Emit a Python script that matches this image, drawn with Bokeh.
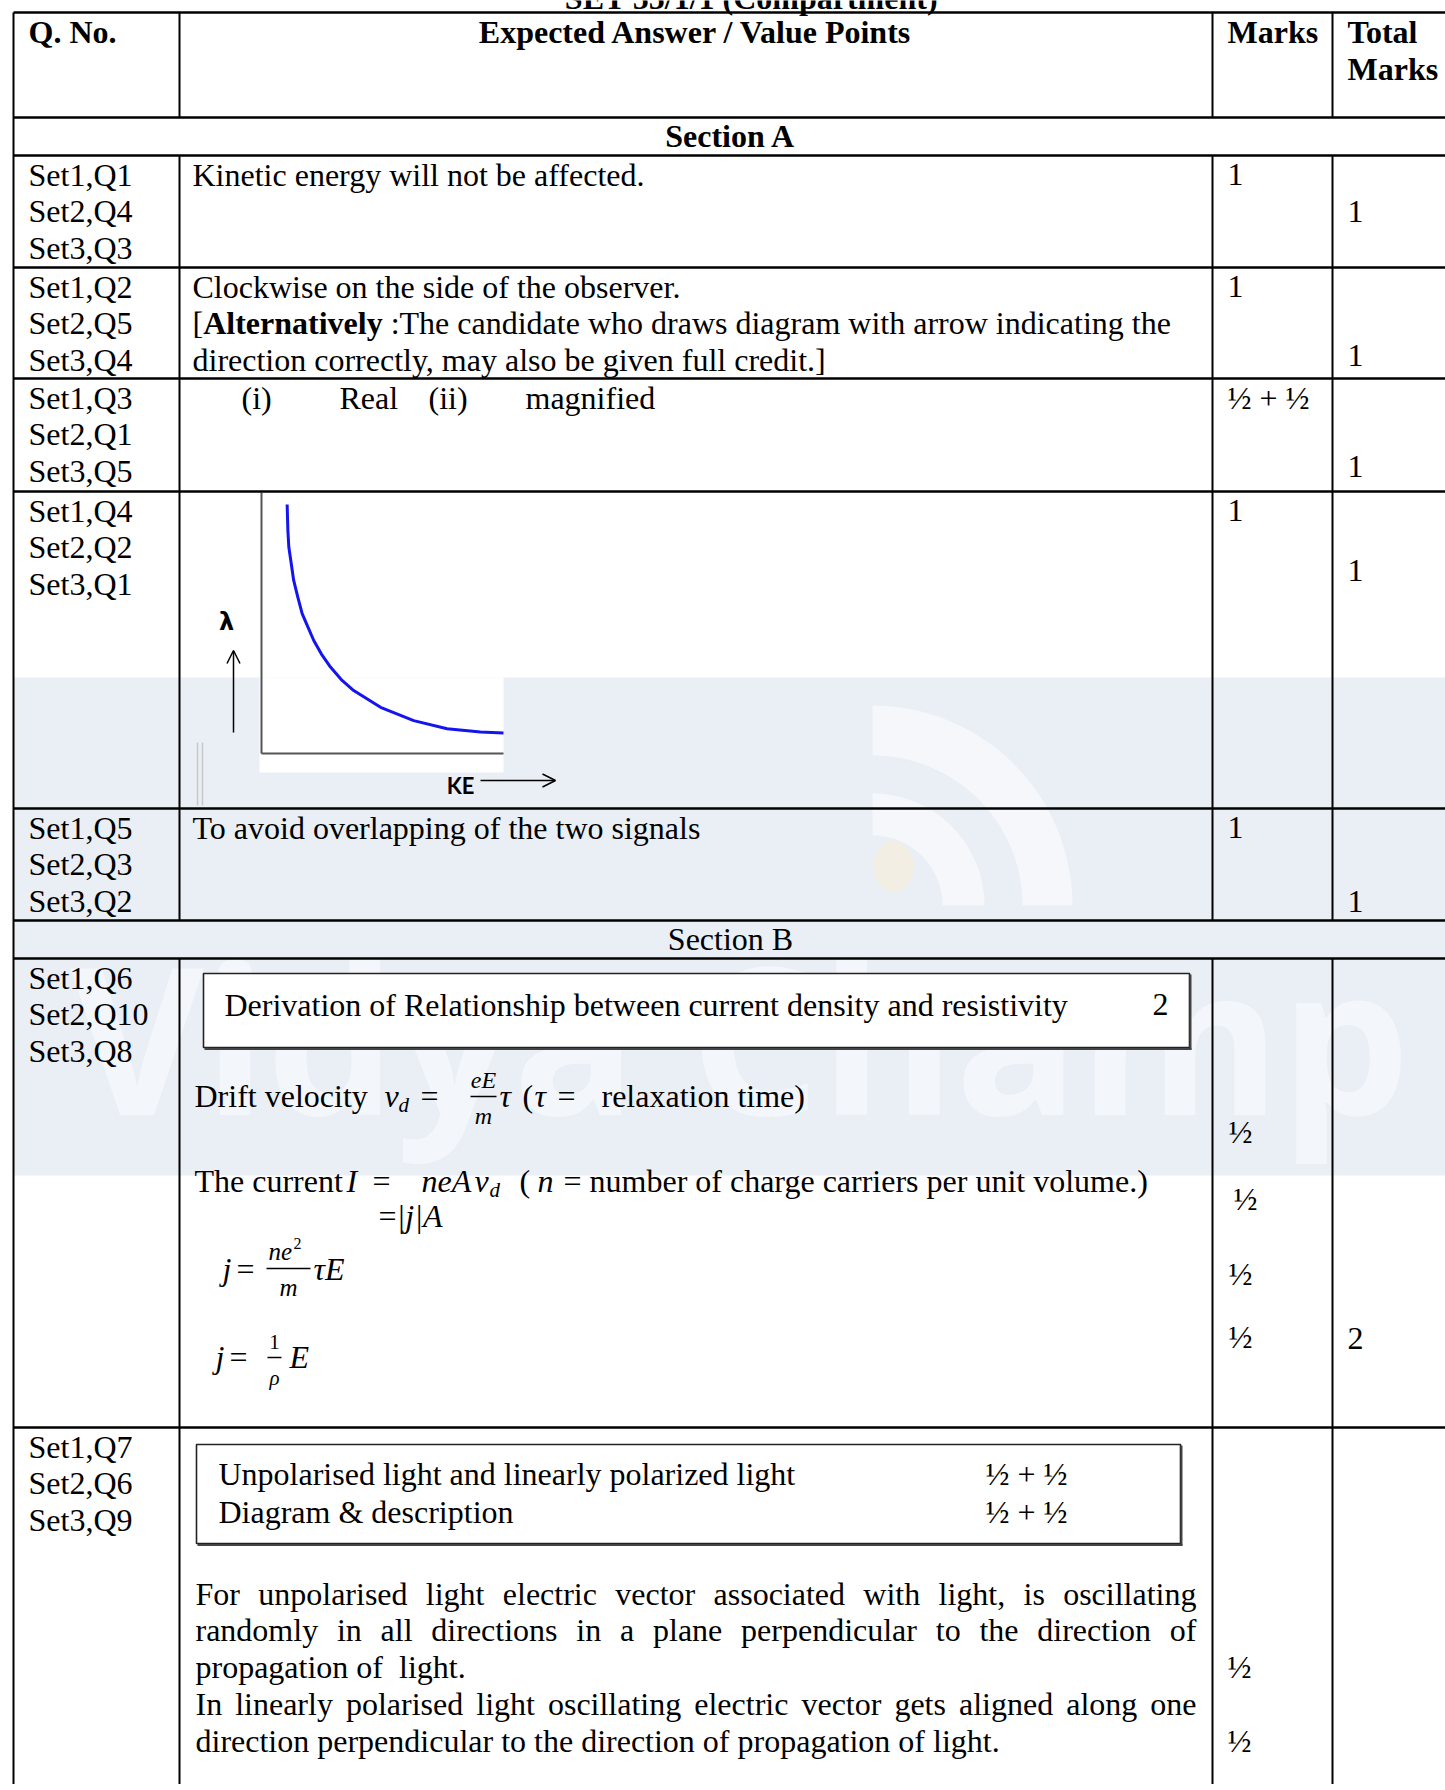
import numpy as np
from bokeh.plotting import figure
from bokeh.models import Range1d, Arrow, OpenHead
from bokeh.core.properties import value
from bokeh.embed import file_html
from bokeh.resources import INLINE

# ---------------------------------------------------------------- data
TITLE = "SET 55/1/1 (Compartment)"
HEAD_QNO = "Q. No."
HEAD_ANSWER = "Expected Answer / Value Points"
HEAD_MARKS = "Marks"
HEAD_TOTAL = ["Total", "Marks"]
SECTIONS = ["Section A", "Section B"]

QNOS = [
    ["Set1,Q1", "Set2,Q4", "Set3,Q3"],
    ["Set1,Q2", "Set2,Q5", "Set3,Q4"],
    ["Set1,Q3", "Set2,Q1", "Set3,Q5"],
    ["Set1,Q4", "Set2,Q2", "Set3,Q1"],
    ["Set1,Q5", "Set2,Q3", "Set3,Q2"],
    ["Set1,Q6", "Set2,Q10", "Set3,Q8"],
    ["Set1,Q7", "Set2,Q6", "Set3,Q9"],
]
ANSWER_Q1 = "Kinetic energy will not be affected."
ANSWER_Q2 = ["Clockwise on the side of the observer.",
             ("[", "Alternatively", " :The candidate who draws diagram with arrow indicating the"),
             "direction correctly, may also be given full credit.]"]
ANSWER_Q3 = ["(i)", "Real", "(ii)", "magnified"]
ANSWER_Q5 = "To avoid overlapping of the two signals"
Q6_BOX = ("Derivation of Relationship between current density and resistivity", "2")
Q7_BOX = [("Unpolarised light and linearly polarized light", "½ + ½"),
          ("Diagram & description", "½ + ½")]
Q7_PARA = [
    "For unpolarised light electric vector associated with light, is oscillating",
    "randomly in all directions in a plane perpendicular to the direction of",
    "propagation of  light.",
    "In linearly polarised light oscillating electric vector gets aligned along one",
    "direction perpendicular to the direction of propagation of light.",
]
Q7_JUSTIFY = [True, True, False, True, False]
MARKS_A = ["1", "1", "½ + ½", "1", "1"]
TOTALS = ["1", "1", "1", "1", "1", "2"]
MARKS_Q6 = ["½", "½", "½", "½"]
MARKS_Q7 = ["½", "½"]
GRAPH_Y_LABEL = "λ"
GRAPH_X_LABEL = "KE"
# de Broglie wavelength vs kinetic energy sketch (graph units 0-10)
KE = [1.06, 1.09, 1.13, 1.23, 1.33, 1.50, 1.68, 1.92, 2.16, 2.47, 2.85, 3.33,
      3.81, 4.92, 6.29, 7.67, 9.05, 10.0]
LAMBDA = [9.54, 8.54, 7.90, 7.27, 6.63, 5.99, 5.36, 4.84, 4.33, 3.82, 3.31, 2.80,
          2.41, 1.77, 1.26, 0.95, 0.82, 0.79]
WATERMARK = "Vidya Champ"

# ---------------------------------------------------------------- layout
W, H = 1445, 1784
X0, Y0 = 0, 0
COLS = [13, 179, 1212, 1332]
RIGHT = 1446
TOP = 12
HLINES = [12, 117, 155, 267, 378, 491, 808, 920, 958, 1427]
ROW_TOPS = [155, 267, 378, 491, 808, 958, 1427]
SEC_ROWS = [(117, 155), (920, 958)]
BOTTOM = Y0 + H + 2
LS = 36.6          # line spacing
FIRST = 19         # first line offset in a row
FS = 32            # body font size
SERIF = "Liberation Serif"
SANS = "Lato"
TXT_X = [28, 192, 1227, 1347]
TOTAL_Y = [211, 355, 466, 570, 901, 1338]
BAND = (677, 1175, "#EAEFF6")

# Times New Roman advance widths (per 1000 em) - Liberation Serif is metric-compatible
TNR = {' ': 250, ',': 250, '.': 250, ':': 278, '[': 333, ']': 333, '(': 333, ')': 333,
       'F': 556, 'I': 333, 'T': 611, 'A': 722, 'D': 722, '=': 564,
       'a': 444, 'b': 500, 'c': 444, 'd': 500, 'e': 444, 'f': 333, 'g': 500, 'h': 500,
       'i': 278, 'j': 278, 'k': 500, 'l': 278, 'm': 778, 'n': 500, 'o': 500, 'p': 500,
       'q': 500, 'r': 333, 's': 389, 't': 278, 'u': 500, 'v': 500, 'w': 722, 'x': 500,
       'y': 500, 'z': 444}
TNR_BOLD = {'A': 722, 'l': 278, 't': 333, 'e': 444, 'r': 444, 'n': 556, 'a': 500,
            'i': 278, 'v': 500, 'y': 500}


def tw(s, size=FS, table=TNR):
    return sum(table.get(c, 500) for c in s) * size / 1000.0


def nb(s):
    # keep repeated / leading spaces visible in SVG text
    s = s.replace("  ", " \u00a0")
    if s.startswith(" "):
        s = "\u00a0" + s[1:]
    return s


p = figure(width=W, height=H, x_range=Range1d(X0, X0 + W), y_range=Range1d(Y0 + H, Y0),
           output_backend="svg", toolbar_location=None, x_axis_type=None, y_axis_type=None,
           min_border=0, background_fill_color="white", border_fill_color="white")
p.grid.visible = False
p.outline_line_color = None


def t(x, y, s, size=FS, style="normal", align="left", font=SERIF, color="black",
      alpha=1.0):
    p.text(x=[x], y=[y], text=[nb(s)], text_font=value(font), text_font_size=f"{size}px",
           text_font_style=style, text_align=align, text_baseline="middle",
           text_color=color, text_alpha=alpha)


def line_y(row, i):
    return ROW_TOPS[row] + FIRST + LS * i


# ---- watermark band
p.quad(left=[COLS[0]], right=[RIGHT], top=[BAND[0]], bottom=[BAND[1]],
       fill_color=BAND[2], line_color=None)
t(70, 1035, WATERMARK, size=205, style="bold", font="Open Sans", color="white",
  alpha=0.45)
# wifi-like arcs of the logo
cx, cy = 872, 905
for r_in, r_out in [(150, 200), (70, 112)]:
    th = np.linspace(0, np.pi / 2, 40)
    xs = np.concatenate([cx + r_out * np.cos(th), cx + r_in * np.cos(th[::-1])])
    ys = np.concatenate([cy - r_out * np.sin(th), cy - r_in * np.sin(th[::-1])])
    p.patch(xs, ys, fill_color="white", fill_alpha=0.5, line_color=None)
p.ellipse(x=[893], y=[866], width=40, height=52, fill_color="#F6EEDC", fill_alpha=0.7,
          line_color=None)

# ---- graph (Q4)
GX0, GX1, GY0, GY1 = 261, 503, 753, 492
p.quad(left=[259], right=[GX1], top=[BAND[0]], bottom=[772], fill_color="white",
       line_color=None)
kx = 10.0 / (GX1 - GX0)
ly = 10.0 / (GY0 - GY1)
ke_start = -(GX0 - X0) * kx
lam_start = -(Y0 + H - GY0) * ly
p.extra_x_ranges = {"ke": Range1d(ke_start, ke_start + W * kx)}
p.extra_y_ranges = {"lam": Range1d(lam_start, lam_start + H * ly)}
p.line([0, 0], [0, 10], x_range_name="ke", y_range_name="lam", line_color="#555555",
       line_width=2)
p.line([0, 10], [0, 0], x_range_name="ke", y_range_name="lam", line_color="#555555",
       line_width=2)
p.line(KE, LAMBDA, x_range_name="ke", y_range_name="lam", line_color="#1414F0",
       line_width=3)
t(226, 621, GRAPH_Y_LABEL, size=24, style="bold", font="DejaVu Sans", align="center")
p.add_layout(Arrow(end=OpenHead(size=13, line_width=1.5, line_color="black"),
                   x_start=233, y_start=732, x_end=233, y_end=650,
                   line_width=1.5, line_color="black"))
t(460, 785, GRAPH_X_LABEL, size=22, style="bold", font=SANS, align="center")
p.add_layout(Arrow(end=OpenHead(size=13, line_width=1.5, line_color="black"),
                   x_start=480, y_start=780, x_end=555, y_end=780,
                   line_width=1.5, line_color="black"))
p.segment(x0=[197, 202], y0=[742, 742], x1=[197, 202], y1=[805, 805],
          line_color="#C8C8C8", line_width=1.5)

# ---- table lines
p.segment(x0=[COLS[0]] * len(HLINES), y0=HLINES, x1=[RIGHT] * len(HLINES), y1=HLINES,
          line_color="black", line_width=2.6)
p.segment(x0=[COLS[0]], y0=[TOP], x1=[COLS[0]], y1=[BOTTOM], line_color="black",
          line_width=2)
vx0, vy0, vy1 = [], [], []
for c in COLS[1:]:
    for a, b in [(TOP, 117), (155, 920), (958, BOTTOM)]:
        vx0.append(c); vy0.append(a); vy1.append(b)
p.segment(x0=vx0, y0=vy0, x1=vx0, y1=vy1, line_color="black", line_width=2)

# ---- header
t(751, -3, TITLE, style="bold", align="center")
t(TXT_X[0], 31, HEAD_QNO, style="bold")
t((COLS[1] + COLS[2]) / 2, 31, HEAD_ANSWER, style="bold", align="center")
t(TXT_X[2], 31, HEAD_MARKS, style="bold")
t(TXT_X[3], 31, HEAD_TOTAL[0], style="bold")
t(TXT_X[3], 68, HEAD_TOTAL[1], style="bold")
t(730, sum(SEC_ROWS[0]) / 2 - 1, SECTIONS[0], style="bold", align="center")
t(730, sum(SEC_ROWS[1]) / 2 - 1, SECTIONS[1], align="center")

# ---- question numbers
for r, qs in enumerate(QNOS):
    for i, q in enumerate(qs):
        t(TXT_X[0], line_y(r, i), q)

# ---- Section A answers
t(TXT_X[1], line_y(0, 0), ANSWER_Q1)
t(TXT_X[1], line_y(1, 0), ANSWER_Q2[0])
a, b, c = ANSWER_Q2[1]
t(TXT_X[1], line_y(1, 1), a)
t(TXT_X[1] + tw(a), line_y(1, 1), b, style="bold")
t(TXT_X[1] + tw(a) + tw(b, table=TNR_BOLD), line_y(1, 1), c)
t(TXT_X[1], line_y(1, 2), ANSWER_Q2[2])
for s, x in zip(ANSWER_Q3, [241, 339, 428, 525]):
    t(x, line_y(2, 0), s)
t(TXT_X[1], line_y(4, 0), ANSWER_Q5)

for r, m in enumerate(MARKS_A):
    t(TXT_X[2], line_y(r, 0), m)
for v, y in zip(TOTALS, TOTAL_Y):
    t(TXT_X[3], y, v)


# ---- Q6 box + derivation
def box(l, r, tp, bt):
    p.quad(left=[l], right=[r], top=[tp], bottom=[bt], fill_color="white",
           line_color="#222222", line_width=1.6)
    p.segment(x0=[l + 1, r + 1], y0=[bt + 1.5, tp + 1], x1=[r + 2, r + 1],
              y1=[bt + 1.5, bt + 2], line_color="#444444", line_width=2)


box(203, 1189, 973, 1047)
t(224, 1004, Q6_BOX[0])
t(1152, 1004, Q6_BOX[1])

I = "italic"
yd = 1095
t(194, yd, "Drift velocity")
t(384, yd, "v", style=I)
t(398, yd + 9, "d", size=21, style=I)
t(420, yd, "=")
t(483, yd - 16, "eE", size=24, style=I, align="center")
p.segment(x0=[470], y0=[yd + 1], x1=[496], y1=[yd + 1], line_color="black", line_width=1.5)
t(483, yd + 20, "m", size=24, style=I, align="center")
t(499, yd, "τ", style=I)
t(522, yd, "(")
t(534, yd, "τ", style=I)
t(557, yd, "=")
t(601, yd, "relaxation time)")

yc = 1180
t(194, yc, "The current")
t(346, yc, "I", style=I)
t(372, yc, "=")
t(421, yc, "neA", style=I)
t(474, yc, "v", style=I)
t(489, yc + 9, "d", size=21, style=I)
t(519, yc, "(")
t(537, yc, "n", style=I)
t(563, yc, "= number of charge carriers per unit volume.)")
t(378, 1215, "=")
t(396, 1215, "|j|A", style=I)

yj = 1268
t(222, yj, "j", style=I)
t(236, yj, "=")
t(268, yj - 17, "ne", size=25, style=I)
t(293, yj - 25, "2", size=16)
p.segment(x0=[266], y0=[yj], x1=[310], y1=[yj], line_color="black", line_width=1.5)
t(288, yj + 19, "m", size=25, style=I, align="center")
t(313, yj, "τE", style=I)

yk = 1356
t(215, yk, "j", style=I)
t(229, yk, "=")
t(274, yk - 15, "1", size=21, align="center")
p.segment(x0=[267], y0=[yk + 1], x1=[281], y1=[yk + 1], line_color="black", line_width=1.5)
t(274, yk + 21, "ρ", size=21, style=I, align="center")
t(289, yk, "E", style=I)

for m, x, y in zip(MARKS_Q6, [1228, 1233, 1228, 1228], [1131, 1198, 1273, 1336]):
    t(x, y, m)

# ---- Q7 box + paragraph
box(196, 1180, 1444, 1543)
for (s, m), y in zip(Q7_BOX, [1473, 1511]):
    t(218, y, s)
    t(985, y, m)

PX0, PX1 = 195, 1196
for i, (s, just) in enumerate(zip(Q7_PARA, Q7_JUSTIFY)):
    y = 1593 + 36.8 * i
    if not just:
        t(PX0, y, s)
        continue
    words = s.split(" ")
    widths = [tw(w_) for w_ in words]
    gap = (PX1 - PX0 - sum(widths)) / (len(words) - 1)
    x = PX0
    for w_, wd in zip(words, widths):
        t(x, y, w_)
        x += wd + gap

for m, y in zip(MARKS_Q7, [1666, 1740]):
    t(TXT_X[2], y, m)

open("out.html", "w").write(file_html(p, INLINE))
